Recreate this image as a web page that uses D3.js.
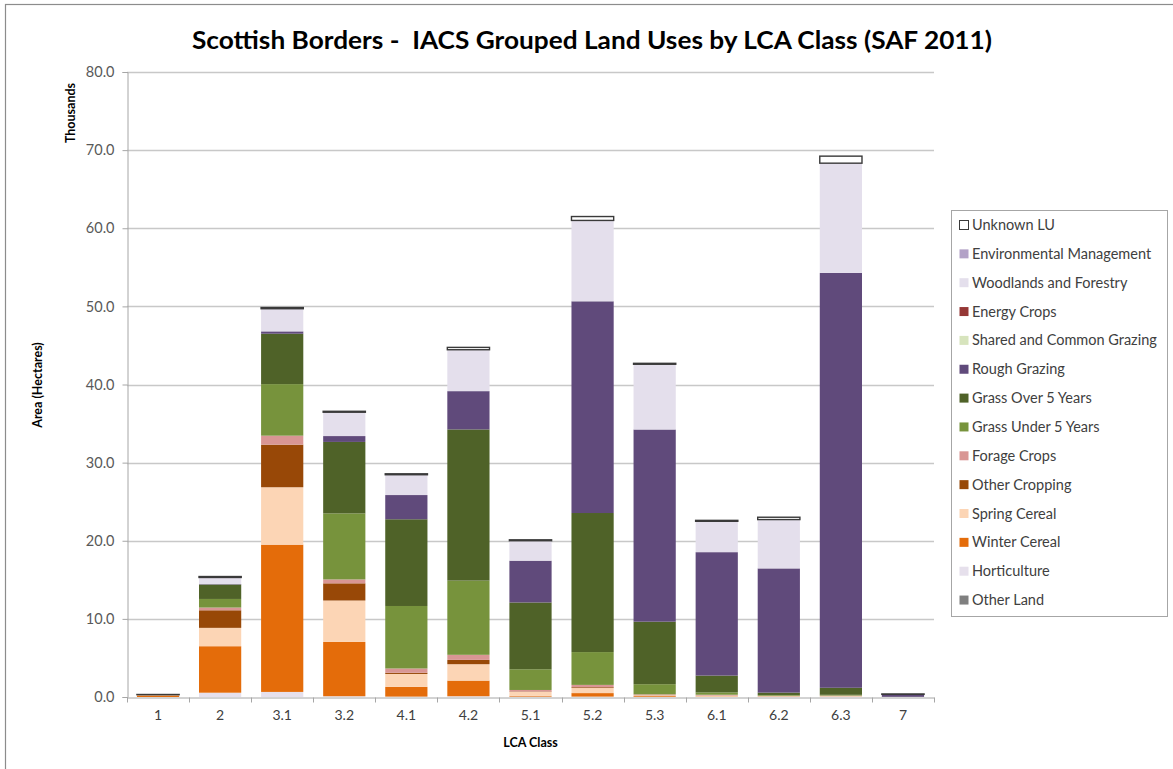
<!DOCTYPE html>
<html>
<head>
<meta charset="utf-8">
<script src="https://cdn.jsdelivr.net/npm/d3@7"></script>
<style>
  html, body { margin: 0; padding: 0; background: #fff; }
  svg { display: block; }
  .title { white-space: pre; }
</style>
</head>
<body>
<svg id="chart" width="1173" height="769"></svg>
<script>
// LCA classes along the x axis
const categories = ["1", "2", "3.1", "3.2", "4.1", "4.2", "5.1", "5.2", "5.3", "6.1", "6.2", "6.3", "7"];

// Area per land-use group, thousands of hectares (stacked bottom to top)
const otherLand      = [0, 0, 0, 0, 0, 0, 0, 0, 0, 0, 0, 0, 0];
const horticulture   = [0, 0.55, 0.65, 0.1, 0.05, 0.1, 0.05, 0.05, 0.02, 0.02, 0.02, 0.05, 0];
const winterCereal   = [0.2, 5.95, 18.85, 6.95, 1.25, 2.0, 0.1, 0.45, 0.1, 0.05, 0.03, 0.02, 0];
const springCereal   = [0.05, 2.35, 7.35, 5.3, 1.65, 2.1, 0.5, 0.65, 0.1, 0.1, 0.05, 0.05, 0];
const otherCropping  = [0.05, 2.25, 5.45, 2.2, 0.15, 0.55, 0.05, 0.1, 0.02, 0.02, 0.01, 0.01, 0];
const forageCrops    = [0, 0.35, 1.15, 0.5, 0.55, 0.65, 0.2, 0.3, 0.1, 0.1, 0.05, 0.05, 0];
const grassUnder5    = [0, 1.1, 6.6, 8.45, 8.0, 9.5, 2.65, 4.2, 1.3, 0.3, 0.1, 0.1, 0];
const grassOver5     = [0, 1.85, 6.45, 9.15, 11.1, 19.35, 8.55, 17.8, 8.0, 2.15, 0.3, 0.9, 0.02];
const roughGrazing   = [0, 0.05, 0.3, 0.75, 3.1, 4.9, 5.35, 27.1, 24.6, 15.8, 15.9, 53.1, 0.3];
const sharedGrazing  = [0, 0, 0, 0, 0, 0, 0, 0, 0, 0, 0, 0, 0];
const energyCrops    = [0, 0, 0, 0, 0, 0, 0, 0, 0, 0, 0, 0, 0];
const woodlands      = [0, 0.85, 2.9, 3.05, 2.6, 5.3, 2.55, 10.35, 8.35, 3.95, 6.25, 14.05, 0.02];
const envManagement  = [0, 0, 0, 0, 0, 0, 0, 0, 0, 0, 0, 0, 0];
const unknownLU      = [0.02, 0.12, 0.15, 0.12, 0.12, 0.3, 0.12, 0.5, 0.12, 0.12, 0.3, 0.9, 0.05];

const yTicks = [0, 10, 20, 30, 40, 50, 60, 70, 80];

const seriesDefs = [
  { key: "Other Land", values: otherLand, color: "#7f7f7f" },
  { key: "Horticulture", values: horticulture, color: "#e6e0ec" },
  { key: "Winter Cereal", values: winterCereal, color: "#e46c0a" },
  { key: "Spring Cereal", values: springCereal, color: "#fcd5b5" },
  { key: "Other Cropping", values: otherCropping, color: "#984807" },
  { key: "Forage Crops", values: forageCrops, color: "#d99694" },
  { key: "Grass Under 5 Years", values: grassUnder5, color: "#77933c" },
  { key: "Grass Over 5 Years", values: grassOver5, color: "#4f6228" },
  { key: "Rough Grazing", values: roughGrazing, color: "#604a7b" },
  { key: "Shared and Common Grazing", values: sharedGrazing, color: "#d7e4bd" },
  { key: "Energy Crops", values: energyCrops, color: "#953735" },
  { key: "Woodlands and Forestry", values: woodlands, color: "#e4dfec" },
  { key: "Environmental Management", values: envManagement, color: "#b3a2c7" },
  { key: "Unknown LU", values: unknownLU, color: "#ffffff", stroke: "#3a3a3a" }
];

const rows = categories.map((c, i) => {
  const r = { cat: c };
  seriesDefs.forEach(s => { r[s.key] = s.values[i]; });
  return r;
});

const svg = d3.select("#chart");
const FONT = "Lato, 'Open Sans', sans-serif";

// outer chart frame
svg.append("rect")
  .attr("x", 5.5).attr("y", 4.5)
  .attr("width", 1200).attr("height", 800)
  .attr("fill", "none").attr("stroke", "#8c8c8c").attr("stroke-width", 1.2);

const margin = { left: 127, top: 72, right: 934, bottom: 697 };

const x = d3.scaleBand()
  .domain(categories)
  .range([margin.left, margin.right])
  .paddingInner(0.32)
  .paddingOuter(0.16);

const y = d3.scaleLinear()
  .domain([0, 80])
  .range([margin.bottom, margin.top]);

// horizontal gridlines
svg.append("g")
  .selectAll("line")
  .data(yTicks.filter(t => t > 0))
  .join("line")
  .attr("x1", margin.left).attr("x2", margin.right)
  .attr("y1", d => Math.round(y(d)) + 0.5).attr("y2", d => Math.round(y(d)) + 0.5)
  .attr("stroke", "#c8c8c8").attr("stroke-width", 1.3);

// stacked bars
const stack = d3.stack().keys(seriesDefs.map(s => s.key));
const layers = stack(rows);

svg.append("g")
  .selectAll("g")
  .data(layers)
  .join("g")
  .attr("fill", (d, i) => seriesDefs[i].color)
  .attr("stroke", (d, i) => seriesDefs[i].stroke || "none")
  .attr("stroke-width", (d, i) => seriesDefs[i].stroke ? 1.4 : 0)
  .selectAll("rect")
  .data(d => d.filter(p => p[1] - p[0] > 0))
  .join("rect")
  .attr("x", d => x(d.data.cat))
  .attr("width", x.bandwidth())
  .attr("y", d => y(d[1]))
  .attr("height", d => y(d[0]) - y(d[1]));

// y axis
const yAxis = d3.axisLeft(y)
  .tickValues(yTicks)
  .tickFormat(d3.format(".1f"))
  .tickSize(5)
  .tickPadding(8);

const gy = svg.append("g")
  .attr("transform", `translate(${margin.left + 0.5},0)`)
  .call(yAxis);
gy.select(".domain").attr("stroke", "#a6a6a6");
gy.selectAll(".tick line").attr("stroke", "#a6a6a6");
gy.selectAll(".tick text")
  .attr("font-family", FONT).attr("font-size", 14.5).attr("fill", "#595959");

// x axis with ticks between categories
const xAxis = d3.axisBottom(x).tickSize(0).tickPadding(13);
const gx = svg.append("g")
  .attr("transform", `translate(0,${margin.bottom + 0.5})`)
  .call(xAxis);
gx.select(".domain").attr("stroke", "#a6a6a6");
gx.selectAll(".tick text")
  .attr("font-family", FONT).attr("font-size", 14).attr("fill", "#404040");

const boundaries = d3.range(categories.length + 1).map(i => margin.left + i * (margin.right - margin.left) / categories.length);
gx.append("g")
  .selectAll("line")
  .data(boundaries)
  .join("line")
  .attr("x1", d => Math.round(d) + 0.5).attr("x2", d => Math.round(d) + 0.5)
  .attr("y1", 0).attr("y2", 5)
  .attr("stroke", "#a6a6a6");

// title
svg.append("text")
  .attr("class", "title")
  .attr("x", 592).attr("y", 49)
  .attr("text-anchor", "middle")
  .attr("font-family", FONT).attr("font-weight", "bold").attr("font-size", 24)
  .attr("fill", "#000")
  .attr("textLength", 800).attr("lengthAdjust", "spacingAndGlyphs")
  .text("Scottish Borders -  IACS Grouped Land Uses by LCA Class (SAF 2011)");

// axis titles
svg.append("text")
  .attr("transform", "translate(75,113) rotate(-90)")
  .attr("text-anchor", "middle")
  .attr("font-family", FONT).attr("font-weight", "bold").attr("font-size", 12.5)
  .attr("fill", "#000")
  .text("Thousands");

svg.append("text")
  .attr("transform", "translate(42,385) rotate(-90)")
  .attr("text-anchor", "middle")
  .attr("font-family", FONT).attr("font-weight", "bold").attr("font-size", 12.5)
  .attr("fill", "#000")
  .text("Area (Hectares)");

svg.append("text")
  .attr("x", (margin.left + margin.right) / 2).attr("y", 747)
  .attr("text-anchor", "middle")
  .attr("font-family", FONT).attr("font-weight", "bold").attr("font-size", 12.5)
  .attr("fill", "#000")
  .text("LCA Class");

// legend (top entry is the top of the stack)
const legendItems = seriesDefs.slice().reverse();
const legend = svg.append("g");
legend.append("rect")
  .attr("x", 951.5).attr("y", 210.5)
  .attr("width", 216).attr("height", 406)
  .attr("fill", "#fff").attr("stroke", "#a6a6a6");

const li = legend.selectAll("g.item")
  .data(legendItems)
  .join("g")
  .attr("class", "item")
  .attr("transform", (d, i) => `translate(959,${225 + i * 28.85})`);

li.append("rect")
  .attr("x", 0.5).attr("y", -4.5)
  .attr("width", 9).attr("height", 9)
  .attr("fill", d => d.color)
  .attr("stroke", d => d.stroke || "none");

li.append("text")
  .attr("x", 13).attr("y", 5)
  .attr("font-family", FONT).attr("font-size", 14.5)
  .attr("fill", "#404040")
  .text(d => d.key);
</script>
</body>
</html>
